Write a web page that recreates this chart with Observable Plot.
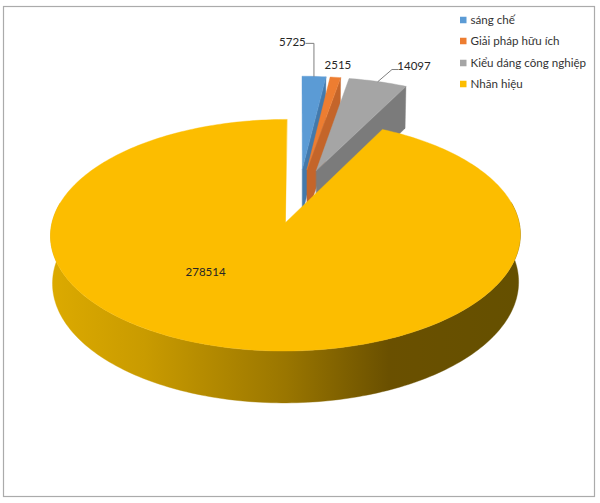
<!DOCTYPE html>
<html lang="vi">
<head>
<meta charset="utf-8">
<title>Pie</title>
<style>html,body{margin:0;padding:0;background:#fff}svg{display:block}</style>
<script src="https://cdn.jsdelivr.net/npm/d3@7"></script>
<script src="https://cdn.jsdelivr.net/npm/@observablehq/plot@0.6"></script>
</head>
<body>
<div id="chart"></div>
<script>
// Data
const categories = ["sáng chế", "Giải pháp hữu ích", "Kiểu dáng công nghiệp", "Nhãn hiệu"];
const values = [5725, 2515, 14097, 278514];

// Styles
const topColors = ["#5b9bd5", "#ed7d31", "#a5a5a5", "#fcbd00"];
const wallColors = ["#4379ab", "#c4652a", "#7b7b7b", "url(#rim)"];
const rimStops = [[0, "#dcaa00"], [0.2, "#c99b00"], [0.5, "#9a7600"], [0.72, "#6a5000"], [1, "#655000"]];

// Layout of the tilted, exploded pie (chart px)
const view = {cx: 298.5, cy: 195, rx: 227.4, ry: 108.5, persp: 0.108, explode: 0.248, depth: 46, shrink: 0.992};
const labelOffsets = [[-21.5, -34], [2.5, -12], [36, -15], [-55, 0]];
const labelRadius = [1, 1, 1, 0.43];
const leaders = [
  [[0, 0], [0, -33], [-8, -33]],
  null,
  [[0, 0], [14, -12], [20, -12]],
  null
];
const legend = {swatchX: 460, textX: 470, rows: [20, 41, 63, 84], size: 6.5};

const total = d3.sum(values);
const slices = [];
let acc = 0;
values.forEach((v, i) => {
  const a0 = acc / total * 2 * Math.PI;
  acc += v;
  const a1 = acc / total * 2 * Math.PI;
  const mid = (a0 + a1) / 2;
  slices.push({i, name: categories[i], value: v, a0, a1, mid,
    ox: view.explode * Math.sin(mid), oy: -view.explode * Math.cos(mid)});
});

function project(s, angle, r, low) {
  const a = s.ox + r * Math.sin(angle);
  const b = s.oy - r * Math.cos(angle);
  const f = 1 / (1 - view.persp * b);
  const k = low ? view.shrink : 1;
  return {
    x: view.cx + view.rx * a * f * k,
    y: view.cy + view.ry * b * f * k + (low ? view.depth * f : 0)
  };
}
function arcPts(s, a0, a1, low) {
  const n = Math.max(2, Math.ceil((a1 - a0) / 0.02));
  return d3.range(n + 1).map(j => project(s, a0 + (a1 - a0) * j / n, 1, low));
}
const topFace = s => [project(s, 0, 0, false), ...arcPts(s, s.a0, s.a1, false)];
const cutWall = s => [
  project(s, 0, 0, false), project(s, s.a1, 1, false),
  project(s, s.a1, 1, true), project(s, 0, 0, true)
];
const deg = Math.PI / 180;
const rimWall = s => [...arcPts(s, 80 * deg, 280 * deg, false), ...arcPts(s, 80 * deg, 280 * deg, true).reverse()];

const poly = (pts, fill) => Plot.line(pts, {x: "x", y: "y", fill, stroke: fill, strokeWidth: 0.4, curve: "linear-closed"});

const marks = [
  Plot.frame({stroke: "#ababab", strokeWidth: 1.2}),
  () => {
    const ns = "http://www.w3.org/2000/svg";
    const g = document.createElementNS(ns, "defs");
    const lg = document.createElementNS(ns, "linearGradient");
    lg.setAttribute("id", "rim");
    rimStops.forEach(([o, c]) => {
      const st = document.createElementNS(ns, "stop");
      st.setAttribute("offset", o);
      st.setAttribute("stop-color", c);
      lg.appendChild(st);
    });
    g.appendChild(lg);
    return g;
  }
];
slices.slice(0, 3).forEach(s => {
  marks.push(poly(cutWall(s), wallColors[s.i]));
  marks.push(poly(topFace(s), topColors[s.i]));
});
marks.push(poly(rimWall(slices[3]), wallColors[3]));
marks.push(poly(topFace(slices[3]), topColors[3]));

// Leaders and value labels
const font = "Lato, Carlito, 'Open Sans', sans-serif";
slices.forEach(s => {
  const p = project(s, s.mid, labelRadius[s.i], false);
  const [dx, dy] = labelOffsets[s.i];
  if (leaders[s.i]) {
    marks.push(Plot.line(leaders[s.i].map(([ax, ay]) => ({x: p.x + ax, y: p.y + ay})), {
      x: "x", y: "y", stroke: "#7f7f7f", strokeWidth: 1
    }));
  }
  marks.push(Plot.text([{x: p.x + dx, y: p.y + dy, t: String(s.value)}], {
    x: "x", y: "y", text: "t", fill: "#262626", fontSize: 11.5, fontFamily: font
  }));
});

// Legend
marks.push(Plot.rect(slices, {
  x1: () => legend.swatchX, x2: () => legend.swatchX + legend.size,
  y1: s => legend.rows[s.i] - legend.size / 2, y2: s => legend.rows[s.i] + legend.size / 2,
  fill: s => topColors[s.i]
}));
marks.push(Plot.text(slices, {
  x: () => legend.textX, y: s => legend.rows[s.i], text: "name",
  textAnchor: "start", fill: "#333", fontSize: 11.6, fontFamily: font
}));

const chart = Plot.plot({
  width: 600, height: 503,
  marginLeft: 3, marginRight: 6, marginTop: 6, marginBottom: 7,
  x: {domain: [3, 594], axis: null},
  y: {domain: [6, 496], reverse: true, axis: null},
  color: {type: "identity"},
  marks
});
document.getElementById("chart").appendChild(chart);
</script>
</body>
</html>
